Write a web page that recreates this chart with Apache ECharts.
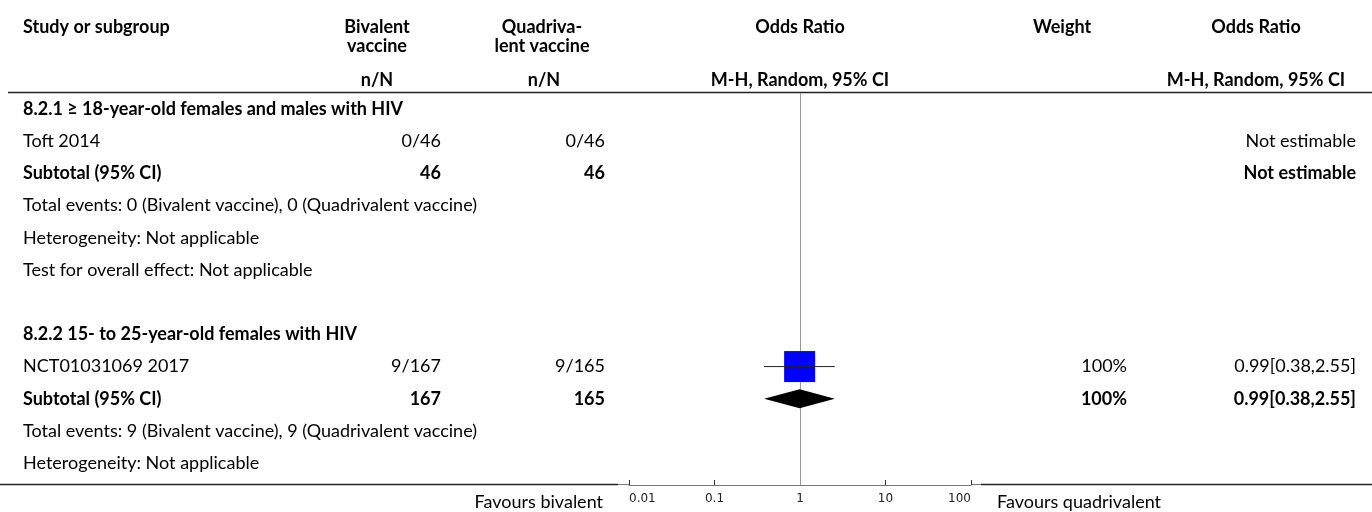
<!DOCTYPE html>
<html><head><meta charset="utf-8">
<script src="https://cdn.jsdelivr.net/npm/echarts@6/dist/echarts.min.js"></script>
<style>html,body{margin:0;padding:0;background:#fff}#c{width:1372px;height:512px}</style>
</head><body><div id="c"></div>
<script>
// ---------- data ----------
const groupTitles = ['8.2.1 \u2265 18-year-old females and males with HIV', '8.2.2 15- to 25-year-old females with HIV'];
const studyNames = [['Toft 2014'], ['NCT01031069 2017']];
const bivEvents = [[0], [9]];
const bivTotals = [[46], [167]];
const quadEvents = [[0], [9]];
const quadTotals = [[46], [165]];
const studyOR = [[null], [0.99]];
const studyLow = [[null], [0.38]];
const studyHigh = [[null], [2.55]];
const studyWeight = [[null], [100]];
const subBiv = [46, 167];
const subQuad = [46, 165];
const subOR = [null, 0.99];
const subLow = [null, 0.38];
const subHigh = [null, 2.55];
const subWeight = [null, 100];
const infoLines = [
  ['Total events: 0 (Bivalent vaccine), 0 (Quadrivalent vaccine)', 'Heterogeneity: Not applicable', 'Test for overall effect: Not applicable'],
  ['Total events: 9 (Bivalent vaccine), 9 (Quadrivalent vaccine)', 'Heterogeneity: Not applicable']
];
const tickValues = [0.01, 0.1, 1, 10, 100];
const leftFavours = 'Favours bivalent';
const rightFavours = 'Favours quadrivalent';

// ---------- build rows ----------
const FONT = 'Lato';
const FS = 18;
const fmt = v => v.toFixed(2);
const rows = [];
groupTitles.forEach((t, g) => {
  rows.push({ kind: 'title', label: t });
  studyNames[g].forEach((s, k) => {
    const or = studyOR[g][k];
    rows.push({ kind: 'study', label: s,
      biv: bivEvents[g][k] + '/' + bivTotals[g][k],
      quad: quadEvents[g][k] + '/' + quadTotals[g][k],
      weight: or == null ? '' : studyWeight[g][k] + '%',
      ci: or == null ? 'Not estimable' : fmt(or) + '[' + fmt(studyLow[g][k]) + ',' + fmt(studyHigh[g][k]) + ']',
      or: or, lo: studyLow[g][k], hi: studyHigh[g][k], w: studyWeight[g][k] });
  });
  const so = subOR[g];
  rows.push({ kind: 'sub', label: 'Subtotal (95% CI)', biv: String(subBiv[g]), quad: String(subQuad[g]),
    weight: so == null ? '' : subWeight[g] + '%',
    ci: so == null ? 'Not estimable' : fmt(so) + '[' + fmt(subLow[g]) + ',' + fmt(subHigh[g]) + ']',
    or: so, lo: subLow[g], hi: subHigh[g] });
  infoLines[g].forEach(l => rows.push({ kind: 'info', label: l }));
  if (g < groupTitles.length - 1) rows.push({ kind: 'blank', label: '' });
});

// rows run downward: row i is placed at y-value -i
const COLS = { label: 23, biv: 441, quad: 605, weight: 1127, ci: 1356 };
const textData = rows.map((r, i) => [1, -i, i]);
const studyData = [];
const diamondData = [];
rows.forEach((r, i) => {
  if (r.kind === 'study' && r.or != null) studyData.push([r.or, -i, r.lo, r.hi, r.w]);
  if (r.kind === 'sub' && r.or != null) diamondData.push([r.or, -i, r.lo, r.hi]);
});

const chart = echarts.init(document.getElementById('c'), null, { renderer: 'canvas' });

function txt(x, y, s, bold, align) {
  return { type: 'text', x: x, y: y, style: { text: s, fill: '#000', font: (bold ? 'bold ' : '') + FS + 'px ' + FONT, textAlign: align || 'left', textVerticalAlign: 'middle' } };
}

const headerY1 = 27, headerY2 = 46, headerY3 = 80;
const graphics = [
  txt(COLS.label, headerY1, 'Study or subgroup', true),
  txt(377, headerY1, 'Bivalent', true, 'center'),
  txt(377, headerY2, 'vaccine', true, 'center'),
  txt(377, headerY3, 'n/N', true, 'center'),
  txt(542, headerY1, 'Quadriva-', true, 'center'),
  txt(542, headerY2, 'lent vaccine', true, 'center'),
  txt(544, headerY3, 'n/N', true, 'center'),
  txt(800, headerY1, 'Odds Ratio', true, 'center'),
  txt(800, headerY3, 'M-H, Random, 95% CI', true, 'center'),
  txt(1062, headerY1, 'Weight', true, 'center'),
  txt(1256, headerY1, 'Odds Ratio', true, 'center'),
  txt(1256, headerY3, 'M-H, Random, 95% CI', true, 'center'),
  { type: 'line', shape: { x1: 8, y1: 92.5, x2: 1372, y2: 92.5 }, style: { stroke: '#222', lineWidth: 1.5 } },
  { type: 'line', shape: { x1: 0, y1: 484.5, x2: 618, y2: 484.5 }, style: { stroke: '#222', lineWidth: 1.5 } },
  { type: 'line', shape: { x1: 618, y1: 484.5, x2: 629, y2: 484.5 }, style: { stroke: '#777', lineWidth: 1 } },
  { type: 'line', shape: { x1: 971, y1: 484.5, x2: 981, y2: 484.5 }, style: { stroke: '#777', lineWidth: 1 } },
  { type: 'line', shape: { x1: 981, y1: 484.5, x2: 1372, y2: 484.5 }, style: { stroke: '#222', lineWidth: 1.5 } },
  txt(603, 502, leftFavours, false, 'right'),
  txt(997, 502, rightFavours, false, 'left')
];

const option = {
  animation: false,
  backgroundColor: '#fff',
  grid: { left: 629, width: 342, top: 93, height: 392, containLabel: false },
  xAxis: {
    type: 'log', logBase: 10, min: tickValues[0], max: tickValues[tickValues.length - 1],
    position: 'bottom',
    axisLine: { show: true, onZero: false, lineStyle: { color: '#777', width: 1 } },
    axisTick: { show: true, inside: true, length: 5, lineStyle: { color: '#333' } },
    axisLabel: { show: true, fontFamily: 'DejaVu Sans', fontSize: 12, color: '#222', margin: 8,
      alignMinLabel: 'left', alignMaxLabel: 'right',
      formatter: v => { const m = tickValues.find(t => Math.abs(t - v) / t < 1e-6); return m != null ? String(m) : ''; } },
    splitLine: { show: false }, minorTick: { show: false }
  },
  yAxis: { type: 'value', min: -11.68, max: 0.5, show: false, splitLine: { show: false } },
  graphic: graphics,
  series: [
    {
      type: 'custom', name: 'text', clip: false, silent: true, z: 5,
      data: textData,
      renderItem: (params, api) => {
        const i = api.value(2);
        const r = rows[i];
        const y = api.coord([1, api.value(1)])[1];
        const bold = r.kind === 'title' || r.kind === 'sub';
        const kids = [];
        if (r.label) kids.push(txt(COLS.label, y, r.label, bold, 'left'));
        if (r.biv) kids.push(txt(COLS.biv, y, r.biv, bold, 'right'));
        if (r.quad) kids.push(txt(COLS.quad, y, r.quad, bold, 'right'));
        if (r.weight) kids.push(txt(COLS.weight, y, r.weight, bold, 'right'));
        if (r.ci) kids.push(txt(COLS.ci, y, r.ci, bold, 'right'));
        return { type: 'group', children: kids };
      },
      markLine: {
        silent: true, symbol: ['none', 'none'], label: { show: false },
        lineStyle: { color: '#999', width: 1, type: 'solid' },
        data: [{ xAxis: 1 }]
      }
    },
    {
      type: 'custom', name: 'studies', clip: false, silent: true, z: 6,
      data: studyData,
      renderItem: (params, api) => {
        const c = api.coord([api.value(0), api.value(1)]);
        const lo = api.coord([api.value(2), api.value(1)]);
        const hi = api.coord([api.value(3), api.value(1)]);
        const s = 31 * Math.sqrt(api.value(4) / 100);
        return { type: 'group', children: [
          { type: 'rect', shape: { x: c[0] - s / 2, y: c[1] - s / 2, width: s, height: s }, style: { fill: '#0000ff' } },
          { type: 'line', shape: { x1: lo[0], y1: c[1], x2: hi[0], y2: c[1] }, style: { stroke: '#222', lineWidth: 1 } },
          { type: 'line', shape: { x1: c[0], y1: c[1] - 4, x2: c[0], y2: c[1] + 4 }, style: { stroke: '#222', lineWidth: 1 } }
        ] };
      }
    },
    {
      type: 'custom', name: 'diamonds', clip: false, silent: true, z: 6,
      data: diamondData,
      renderItem: (params, api) => {
        const c = api.coord([api.value(0), api.value(1)]);
        const lo = api.coord([api.value(2), api.value(1)]);
        const hi = api.coord([api.value(3), api.value(1)]);
        const h = 9.5;
        return { type: 'polygon', shape: { points: [[lo[0], c[1]], [c[0], c[1] - h], [hi[0], c[1]], [c[0], c[1] + h]] }, style: { fill: '#000' } };
      }
    }
  ]
};
chart.setOption(option);
</script>
</body></html>
